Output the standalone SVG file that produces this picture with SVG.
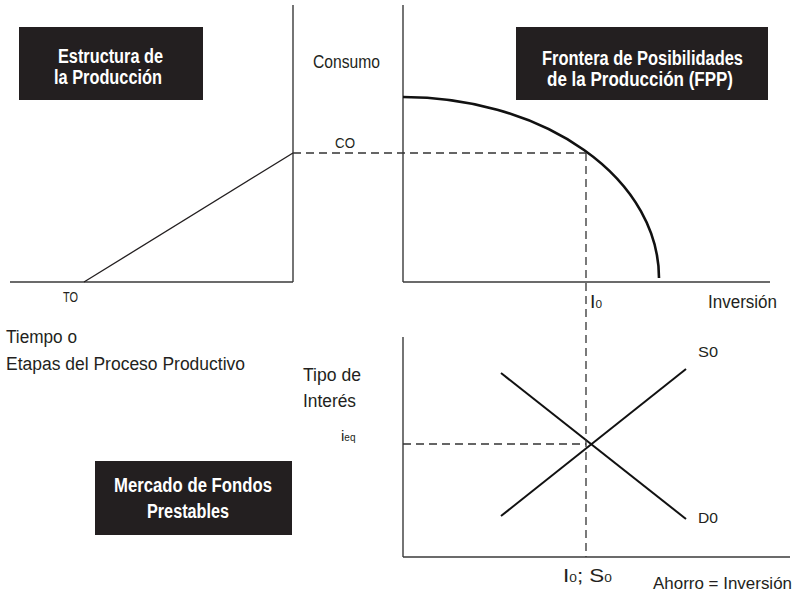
<svg xmlns="http://www.w3.org/2000/svg" width="799" height="596" viewBox="0 0 799 596">
  <style>
    text { font-family: "Liberation Sans", Arial, sans-serif; fill: #231f20; }
    .lbl { font-size: 18px; }
    .sm { font-size: 15px; }
    .box { fill: #231f20; }
    .boxtxt { font-size: 20px; font-weight: bold; fill: #ffffff; }
    .axis { stroke: #3a3a3a; stroke-width: 1.4; fill: none; }
    .thin { stroke: #231f20; stroke-width: 1.3; fill: none; }
    .curve { stroke: #111111; stroke-width: 2.6; fill: none; }
    .mkt { stroke: #111111; stroke-width: 2; fill: none; }
    .dash { stroke: #333333; stroke-width: 1.3; stroke-dasharray: 8 5; fill: none; }
  </style>

  <!-- Title boxes -->
  <g id="box-estructura">
    <rect class="box" x="19" y="27" width="184" height="73"/>
    <text class="boxtxt" x="58" y="63" textLength="105" lengthAdjust="spacingAndGlyphs">Estructura de</text>
    <text class="boxtxt" x="54" y="84" textLength="108" lengthAdjust="spacingAndGlyphs">la Producción</text>
  </g>
  <g id="box-fpp">
    <rect class="box" x="516" y="27" width="252" height="73"/>
    <text class="boxtxt" x="542" y="65" textLength="201" lengthAdjust="spacingAndGlyphs">Frontera de Posibilidades</text>
    <text class="boxtxt" x="547" y="86" textLength="186" lengthAdjust="spacingAndGlyphs">de la Producción (FPP)</text>
  </g>
  <g id="box-mercado">
    <rect class="box" x="95" y="461" width="197" height="74"/>
    <text class="boxtxt" x="114" y="492" textLength="158" lengthAdjust="spacingAndGlyphs">Mercado de Fondos</text>
    <text class="boxtxt" x="147" y="518" textLength="82" lengthAdjust="spacingAndGlyphs">Prestables</text>
  </g>

  <!-- Structure of production panel -->
  <g id="panel-estructura">
    <line class="axis" x1="293" y1="5" x2="293" y2="282"/>
    <line class="axis" x1="10" y1="282" x2="293" y2="282"/>
    <line class="thin" x1="84" y1="282" x2="293" y2="153"/>
    <text class="sm" x="63" y="302" textLength="15" lengthAdjust="spacingAndGlyphs">TO</text>
    <text class="lbl" x="6" y="343" textLength="71" lengthAdjust="spacingAndGlyphs">Tiempo o</text>
    <text class="lbl" x="6" y="370" textLength="239" lengthAdjust="spacingAndGlyphs">Etapas del Proceso Productivo</text>
  </g>

  <!-- Production possibilities frontier panel -->
  <g id="panel-fpp">
    <line class="axis" x1="403" y1="5" x2="403" y2="282"/>
    <line class="axis" x1="403" y1="282" x2="770" y2="282"/>
    <path class="curve" d="M403,97 A256,181 0 0 1 659,278"/>
    <text class="lbl" x="313" y="68" textLength="67" lengthAdjust="spacingAndGlyphs">Consumo</text>
    <text class="sm" x="335" y="148" textLength="20" lengthAdjust="spacingAndGlyphs">CO</text>
    <text class="lbl" x="590" y="308" textLength="12" lengthAdjust="spacingAndGlyphs">I<tspan font-size="11">0</tspan></text>
    <text class="lbl" x="708" y="308" textLength="69" lengthAdjust="spacingAndGlyphs">Inversión</text>
  </g>

  <!-- Loanable funds market panel -->
  <g id="panel-mercado">
    <line class="axis" x1="403" y1="337" x2="403" y2="557"/>
    <line class="axis" x1="403" y1="557" x2="790" y2="557"/>
    <line class="mkt" x1="501" y1="516" x2="686" y2="369"/>
    <line class="mkt" x1="501" y1="373" x2="686" y2="519"/>
    <text class="sm" x="698" y="357" textLength="20" lengthAdjust="spacingAndGlyphs">S0</text>
    <text class="sm" x="698" y="523" textLength="20" lengthAdjust="spacingAndGlyphs">D0</text>
    <text class="lbl" x="303" y="381" textLength="58" lengthAdjust="spacingAndGlyphs">Tipo de</text>
    <text class="lbl" x="303" y="407" textLength="53" lengthAdjust="spacingAndGlyphs">Interés</text>
    <text class="sm" x="341" y="441">i<tspan font-size="10">eq</tspan></text>
    <text class="lbl" x="563" y="582" textLength="49" lengthAdjust="spacingAndGlyphs">I<tspan font-size="11">0</tspan>; S<tspan font-size="11">0</tspan></text>
    <text x="653" y="589" font-size="17" textLength="139" lengthAdjust="spacingAndGlyphs">Ahorro = Inversión</text>
  </g>

  <!-- Connecting dashed guides -->
  <g id="connectors">
    <line class="dash" x1="293" y1="153" x2="586" y2="153"/>
    <line class="dash" x1="586" y1="153" x2="586" y2="557"/>
    <line class="dash" x1="403" y1="444" x2="586" y2="444"/>
  </g>
</svg>
